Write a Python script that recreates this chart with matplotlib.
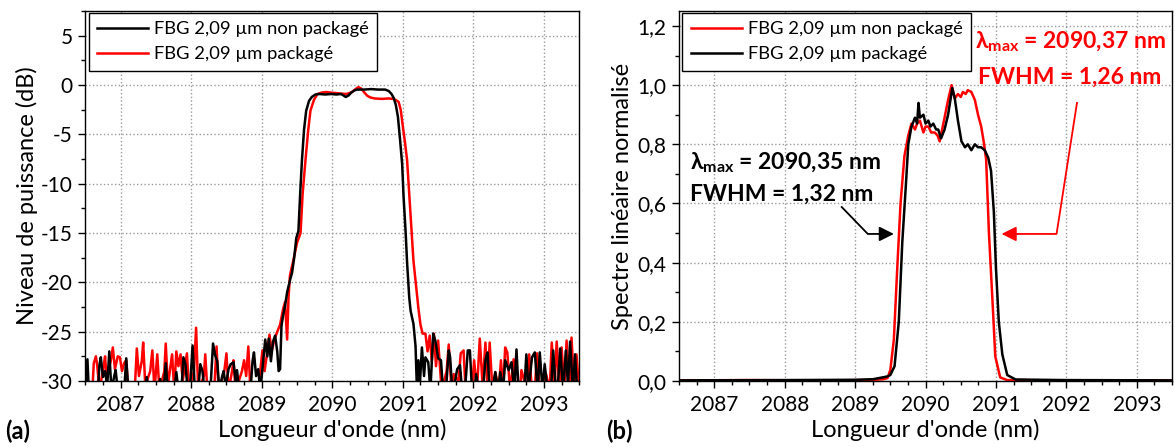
"""Reflection spectra of the 2.09 um FBG, packaged vs non-packaged."""

import matplotlib

matplotlib.use("Agg")
import matplotlib.pyplot as plt
from matplotlib import ticker

plt.rcParams["font.family"] = ["Lato", "DejaVu Sans"]
plt.rcParams["axes.unicode_minus"] = False
plt.rcParams["mathtext.fontset"] = "custom"
plt.rcParams["mathtext.rm"] = "Lato"
plt.rcParams["mathtext.bf"] = "Lato:bold"

RED = "#ff0000"
BLACK = "#000000"
TICK_FS = 15
XLABEL_FS = 17.2
YLABEL_FS = 17
LEGEND_FS = 13.2
NOTE_FS = 16.5
LINE_W = 1.8

# ---- panel (a): power level (dB) --------------------------------------
# FBG non packagé (black)
a_black_wl = [
    2086.50, 2086.53, 2086.55, 2086.68, 2086.70, 2086.72, 2086.75, 2086.78, 2086.81, 2086.84,
    2086.87, 2086.91, 2086.93, 2086.96, 2087.06, 2087.08, 2087.11, 2087.35, 2087.37, 2087.40,
    2087.54, 2087.56, 2087.59, 2087.62, 2087.64, 2087.67, 2087.77, 2087.79, 2087.82, 2087.87,
    2087.89, 2087.92, 2087.95, 2087.99, 2088.02, 2088.05, 2088.10, 2088.13, 2088.16, 2088.19,
    2088.28, 2088.31, 2088.34, 2088.37, 2088.40, 2088.44, 2088.46, 2088.49, 2088.53, 2088.56,
    2088.60, 2088.63, 2088.65, 2088.68, 2088.84, 2088.87, 2088.89, 2088.92, 2088.95, 2088.98,
    2089.02, 2089.05, 2089.08, 2089.10, 2089.13, 2089.16, 2089.19, 2089.22, 2089.24, 2089.26,
    2089.28, 2089.30, 2089.33, 2089.36, 2089.40, 2089.43, 2089.46, 2089.49, 2089.52, 2089.545,
    2089.57, 2089.60, 2089.63, 2089.67, 2089.71, 2089.76, 2089.82, 2089.90, 2089.98, 2090.06,
    2090.12, 2090.16, 2090.19, 2090.23, 2090.27, 2090.31, 2090.35, 2090.45, 2090.55, 2090.65,
    2090.75, 2090.80, 2090.84, 2090.87, 2090.90, 2090.93, 2090.96, 2090.99, 2091.01, 2091.04,
    2091.06, 2091.09, 2091.11, 2091.15, 2091.18, 2091.20, 2091.22, 2091.24, 2091.27, 2091.30,
    2091.32, 2091.36, 2091.39, 2091.43, 2091.46, 2091.50, 2091.54, 2091.57, 2091.62, 2091.65,
    2091.67, 2091.70, 2091.74, 2091.77, 2091.81, 2091.84, 2091.89, 2091.92, 2091.95, 2091.98,
    2092.02, 2092.04, 2092.07, 2092.14, 2092.17, 2092.20, 2092.23, 2092.28, 2092.31, 2092.35,
    2092.38, 2092.42, 2092.45, 2092.50, 2092.54, 2092.58, 2092.61, 2092.64, 2092.72, 2092.75,
    2092.78, 2092.83, 2092.87, 2092.91, 2092.94, 2092.98, 2093.01, 2093.05, 2093.10, 2093.13,
    2093.17, 2093.20, 2093.23, 2093.27, 2093.31, 2093.34, 2093.37, 2093.41, 2093.44, 2093.47,
    2093.50,
]
a_black_db = [
    -31.0, -27.8, -31.0, -31.0, -28.4, -27.6, -29.6, -29.0, -30.5, -27.0,
    -31.0, -29.5, -28.9, -31.0, -30.0, -27.7, -31.0, -31.0, -29.6, -31.0,
    -31.0, -29.8, -31.0, -30.0, -28.2, -31.0, -30.5, -29.1, -31.0, -30.0,
    -27.6, -28.3, -31.0, -30.0, -26.4, -30.5, -31.0, -28.3, -29.0, -31.0,
    -30.0, -26.2, -27.4, -28.0, -31.0, -29.5, -29.0, -30.5, -28.8, -28.3,
    -28.1, -30.0, -28.9, -31.0, -31.0, -28.0, -27.1, -29.5, -28.8, -31.0,
    -28.0, -25.8, -27.5, -25.7, -28.0, -26.0, -25.4, -27.0, -29.0, -28.8,
    -24.4, -23.5, -22.4, -21.0, -19.8, -19.0, -17.5, -15.5, -14.8, -11.0,
    -7.6, -4.5, -2.6, -1.6, -1.2, -0.95, -0.9, -0.95, -0.9, -0.95,
    -0.9, -1.05, -1.2, -1.05, -0.75, -0.55, -0.45, -0.45, -0.4, -0.45,
    -0.45, -0.6, -0.9, -1.3, -2.0, -3.2, -5.5, -8.0, -11.3, -15.0,
    -18.0, -21.5, -22.9, -24.2, -26.5, -31.0, -27.9, -30.5, -26.6, -29.5,
    -27.6, -28.1, -31.0, -25.2, -25.9, -27.7, -27.9, -31.0, -30.0, -26.9,
    -27.6, -31.0, -30.0, -28.8, -28.4, -31.0, -30.0, -26.9, -26.9, -31.0,
    -30.5, -29.3, -31.0, -30.5, -27.9, -27.1, -31.0, -30.5, -29.1, -31.0,
    -29.1, -31.0, -27.9, -28.9, -28.1, -31.0, -26.8, -31.0, -31.0, -27.3,
    -31.0, -27.6, -27.1, -31.0, -27.1, -31.0, -28.3, -31.0, -31.0, -26.9,
    -31.0, -30.0, -26.7, -31.0, -26.9, -30.5, -26.0, -31.0, -27.3, -31.0,
    -31.0,
]

# FBG packagé (red)
a_red_wl = [
    2086.50, 2086.52, 2086.60, 2086.62, 2086.65, 2086.67, 2086.70, 2086.76, 2086.78, 2086.80,
    2086.86, 2086.89, 2086.92, 2086.96, 2086.99, 2087.02, 2087.05, 2087.08, 2087.11, 2087.20,
    2087.23, 2087.26, 2087.30, 2087.32, 2087.35, 2087.42, 2087.45, 2087.48, 2087.52, 2087.55,
    2087.62, 2087.64, 2087.67, 2087.73, 2087.76, 2087.79, 2087.82, 2087.85, 2087.88, 2087.94,
    2087.97, 2088.04, 2088.07, 2088.10, 2088.18, 2088.20, 2088.23, 2088.33, 2088.36, 2088.39,
    2088.47, 2088.50, 2088.53, 2088.58, 2088.60, 2088.63, 2088.72, 2088.75, 2088.78, 2088.81,
    2088.84, 2088.95, 2089.01, 2089.04, 2089.08, 2089.11, 2089.14, 2089.18, 2089.22, 2089.26,
    2089.30, 2089.33, 2089.36, 2089.38, 2089.40, 2089.45, 2089.50, 2089.55, 2089.58, 2089.62,
    2089.66, 2089.69, 2089.74, 2089.79, 2089.85, 2089.92, 2089.97, 2090.05, 2090.12, 2090.20,
    2090.28, 2090.33, 2090.37, 2090.41, 2090.46, 2090.50, 2090.54, 2090.60, 2090.70, 2090.80,
    2090.87, 2090.91, 2090.94, 2090.97, 2091.00, 2091.03, 2091.06, 2091.09, 2091.12, 2091.15,
    2091.19, 2091.22, 2091.25, 2091.28, 2091.32, 2091.35, 2091.38, 2091.41, 2091.44, 2091.47,
    2091.50, 2091.55, 2091.62, 2091.65, 2091.69, 2091.72, 2091.79, 2091.82, 2091.86, 2091.89,
    2091.98, 2092.01, 2092.05, 2092.09, 2092.13, 2092.17, 2092.20, 2092.23, 2092.27, 2092.31,
    2092.36, 2092.39, 2092.42, 2092.45, 2092.48, 2092.52, 2092.57, 2092.60, 2092.66, 2092.68,
    2092.76, 2092.79, 2092.83, 2092.87, 2092.90, 2092.94, 2093.03, 2093.08, 2093.11, 2093.15,
    2093.18, 2093.22, 2093.25, 2093.29, 2093.32, 2093.36, 2093.39, 2093.43, 2093.46, 2093.50,
]
a_red_db = [
    -29.0, -31.0, -31.0, -28.2, -27.5, -28.5, -31.0, -28.5, -27.5, -29.5,
    -28.0, -26.6, -28.8, -27.5, -27.6, -29.0, -28.2, -27.9, -31.0, -31.0,
    -26.7, -29.5, -28.0, -26.1, -30.5, -29.0, -26.9, -31.0, -27.3, -31.0,
    -29.0, -26.2, -30.5, -27.3, -31.0, -27.0, -28.5, -27.3, -30.0, -27.2,
    -31.0, -29.0, -24.6, -31.0, -29.5, -27.3, -31.0, -30.5, -26.5, -31.0,
    -29.0, -27.2, -31.0, -29.0, -27.9, -31.0, -29.0, -27.9, -29.5, -26.5,
    -31.0, -31.0, -26.9, -29.0, -27.0, -25.3, -27.0, -25.8, -25.0, -24.3,
    -22.8, -22.0, -25.8, -21.5, -19.3, -17.7, -16.0, -15.0, -11.0, -7.6,
    -4.5, -2.6, -1.5, -0.9, -0.75, -0.7, -0.75, -0.8, -0.85, -0.9,
    -0.7, -0.4, -0.2, -0.35, -0.8, -1.1, -1.25, -1.35, -1.4, -1.35,
    -1.4, -1.55, -1.7, -2.5, -4.2, -5.8, -7.6, -11.0, -14.5, -17.8,
    -20.5, -22.6, -24.3, -25.2, -25.2, -27.0, -25.4, -28.0, -25.2, -28.5,
    -25.9, -31.0, -29.0, -26.3, -31.0, -29.3, -30.0, -27.2, -26.9, -31.0,
    -31.0, -27.9, -31.0, -25.7, -30.5, -26.1, -31.0, -26.1, -31.0, -29.1,
    -31.0, -27.9, -31.0, -26.6, -27.1, -31.0, -27.8, -31.0, -31.0, -28.9,
    -31.0, -27.3, -31.0, -31.0, -27.2, -31.0, -29.3, -31.0, -26.1, -30.5,
    -26.0, -31.0, -26.6, -31.0, -25.9, -31.0, -25.6, -31.0, -27.3, -31.0,
]

# ---- panel (b): normalised linear spectrum ----------------------------
# FBG non packagé (red)
b_red_wl = [
    2086.50, 2087.50, 2088.50, 2089.20, 2089.40, 2089.46, 2089.50, 2089.55, 2089.60, 2089.645,
    2089.70, 2089.755, 2089.80, 2089.85, 2089.88, 2089.92, 2089.97, 2090.00, 2090.04, 2090.08,
    2090.13, 2090.17, 2090.20, 2090.27, 2090.32, 2090.37, 2090.415, 2090.46, 2090.50, 2090.53,
    2090.57, 2090.60, 2090.65, 2090.70, 2090.745, 2090.79, 2090.825, 2090.86, 2090.90, 2090.955,
    2090.99, 2091.06, 2091.16, 2092.00, 2093.50,
]
b_red_val = [
    0.002, 0.003, 0.002, 0.003, 0.006, 0.010, 0.037, 0.14, 0.39, 0.60,
    0.76, 0.83, 0.87, 0.85, 0.87, 0.88, 0.84, 0.86, 0.86, 0.84,
    0.84, 0.83, 0.81, 0.89, 0.95, 1.00, 0.955, 0.97, 0.96, 0.977,
    0.97, 0.983, 0.977, 0.95, 0.90, 0.86, 0.81, 0.75, 0.50, 0.25,
    0.083, 0.012, 0.003, 0.002, 0.002,
]

# FBG packagé (black)
b_black_wl = [
    2086.50, 2088.00, 2089.00, 2089.256, 2089.45, 2089.50, 2089.56, 2089.62, 2089.67, 2089.72,
    2089.755, 2089.80, 2089.85, 2089.88, 2089.90, 2089.92, 2089.97, 2090.00, 2090.04, 2090.07,
    2090.11, 2090.15, 2090.18, 2090.22, 2090.27, 2090.32, 2090.38, 2090.415, 2090.46, 2090.51,
    2090.56, 2090.60, 2090.65, 2090.70, 2090.745, 2090.79, 2090.84, 2090.89, 2090.93, 2090.97,
    2091.00, 2091.04, 2091.09, 2091.16, 2091.28, 2092.00, 2093.50,
]
b_black_val = [
    0.002, 0.003, 0.004, 0.006, 0.015, 0.020, 0.05, 0.20, 0.47, 0.66,
    0.80, 0.86, 0.89, 0.87, 0.94, 0.89, 0.90, 0.87, 0.88, 0.86,
    0.87, 0.85, 0.85, 0.82, 0.85, 0.90, 0.99, 0.955, 0.88, 0.81,
    0.79, 0.80, 0.78, 0.80, 0.79, 0.79, 0.78, 0.755, 0.71, 0.57,
    0.38, 0.20, 0.09, 0.02, 0.005, 0.003, 0.002,
]

XTICKS = [2087, 2088, 2089, 2090, 2091, 2092, 2093]
LABEL_NON = "FBG 2,09 µm non packagé"
LABEL_PKG = "FBG 2,09 µm packagé"


def style_axes(ax):
    ax.set_xlim(2086.5, 2093.5)
    ax.set_xticks(XTICKS)
    ax.xaxis.set_minor_locator(ticker.MultipleLocator(0.25))
    ax.grid(True, which="major", color="#9a9a9a", linestyle=":", linewidth=1.0)
    ax.tick_params(which="major", direction="out", length=5, width=1.0,
                   labelsize=TICK_FS, top=False, right=False)
    ax.tick_params(axis="x", which="major", pad=5)
    ax.tick_params(axis="y", which="major", pad=4)
    ax.tick_params(which="minor", direction="out", length=3, width=1.0,
                   top=False, right=False)
    for spine in ax.spines.values():
        spine.set_linewidth(1.0)
    ax.set_xlabel("Longueur d'onde (nm)", fontsize=XLABEL_FS, labelpad=3)


def add_legend(ax, handles, labels):
    leg = ax.legend(handles, labels, loc="upper left", bbox_to_anchor=(0.007, 0.995),
                    fontsize=LEGEND_FS, fancybox=False, edgecolor=BLACK, framealpha=1,
                    handlelength=2.8, handletextpad=0.3, labelspacing=0.5,
                    borderpad=0.45, borderaxespad=0)
    leg.get_frame().set_linewidth(1.0)


fig = plt.figure(figsize=(11.75, 4.47), dpi=100)
ax_a = fig.add_axes([0.0726, 0.1477, 0.4204, 0.8273])
ax_b = fig.add_axes([0.5779, 0.1477, 0.4196, 0.8273])

# (a)
red_a, = ax_a.plot(a_red_wl, a_red_db, color=RED, lw=LINE_W)
black_a, = ax_a.plot(a_black_wl, a_black_db, color=BLACK, lw=LINE_W)
style_axes(ax_a)
ax_a.set_ylim(-30, 7.5)
ax_a.set_yticks([5, 0, -5, -10, -15, -20, -25, -30])
ax_a.yaxis.set_minor_locator(ticker.MultipleLocator(2.5))
ax_a.set_ylabel("Niveau de puissance (dB)", fontsize=YLABEL_FS, labelpad=2)
add_legend(ax_a, [black_a, red_a], [LABEL_NON, LABEL_PKG])

# (b)
red_b, = ax_b.plot(b_red_wl, b_red_val, color=RED, lw=LINE_W)
black_b, = ax_b.plot(b_black_wl, b_black_val, color=BLACK, lw=LINE_W)
style_axes(ax_b)
ax_b.set_ylim(0, 1.25)
ax_b.set_yticks([0.0, 0.2, 0.4, 0.6, 0.8, 1.0, 1.2])
ax_b.yaxis.set_minor_locator(ticker.MultipleLocator(0.1))
ax_b.yaxis.set_major_formatter(
    ticker.FuncFormatter(lambda v, _: f"{v:.1f}".replace(".", ",")))
ax_b.set_ylabel("Spectre linéaire normalisé", fontsize=YLABEL_FS, labelpad=3)
add_legend(ax_b, [red_b, black_b], [LABEL_NON, LABEL_PKG])

# annotations on (b)
ax_b.text(2090.70, 1.125, r"$\mathbf{λ_{max}}$ = 2090,37 nm", color=RED,
          fontsize=NOTE_FS, fontweight="bold", va="baseline")
ax_b.text(2090.74, 1.005, "FWHM = 1,26 nm", color=RED,
          fontsize=NOTE_FS, fontweight="bold", va="baseline")
ax_b.text(2086.66, 0.715, r"$\mathbf{λ_{max}}$ = 2090,35 nm", color=BLACK,
          fontsize=NOTE_FS, fontweight="bold", va="baseline")
ax_b.text(2086.66, 0.61, "FWHM = 1,32 nm", color=BLACK,
          fontsize=NOTE_FS, fontweight="bold", va="baseline")

ax_b.plot([2088.81, 2089.18, 2089.40], [0.588, 0.497, 0.497], color=BLACK, lw=1.3)
ax_b.annotate("", xy=(2089.59, 0.497), xytext=(2089.30, 0.497),
              arrowprops=dict(arrowstyle="-|>", color=BLACK, lw=1.3, mutation_scale=22))
ax_b.plot([2092.15, 2091.86, 2091.20], [0.94, 0.497, 0.497], color=RED, lw=1.3)
ax_b.annotate("", xy=(2091.04, 0.497), xytext=(2091.35, 0.497),
              arrowprops=dict(arrowstyle="-|>", color=RED, lw=1.3, mutation_scale=22))

fig.text(0.004, 0.018, "(a)", fontsize=17, fontweight="bold")
fig.text(0.516, 0.018, "(b)", fontsize=17, fontweight="bold")

fig.savefig("out.png", dpi=100)
